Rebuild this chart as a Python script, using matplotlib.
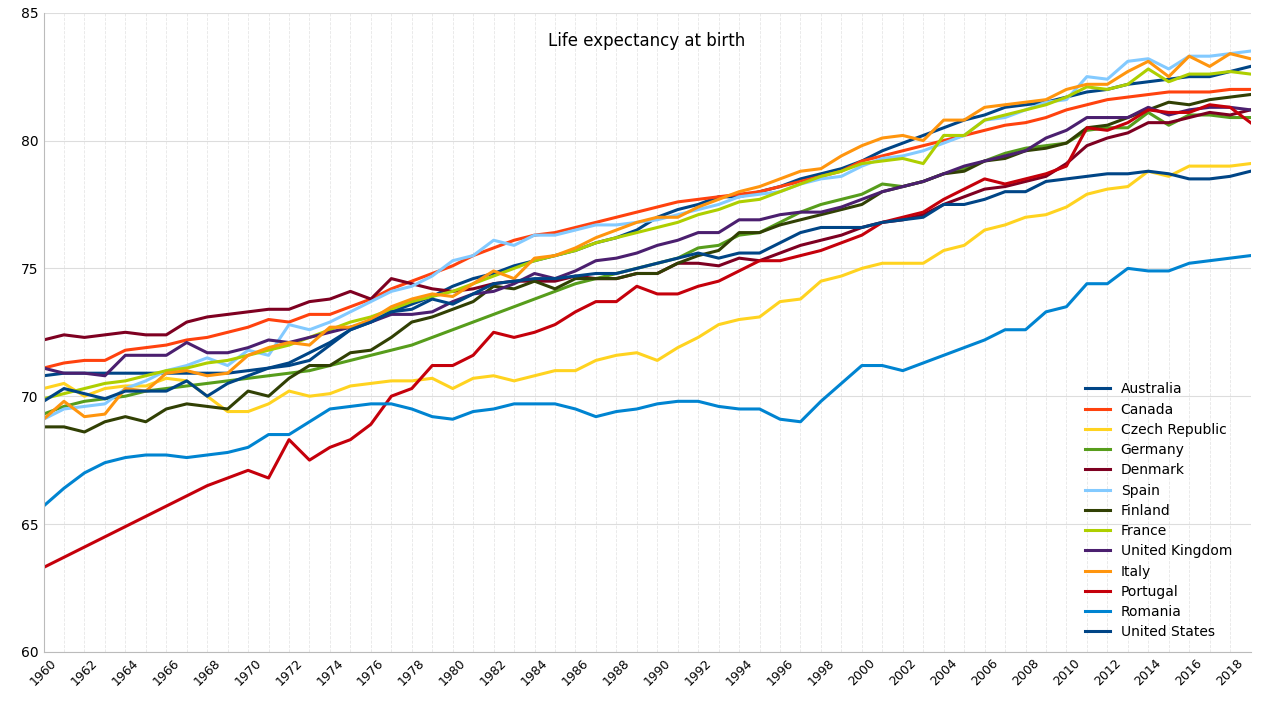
import matplotlib.pyplot as plt
import numpy as np

years = list(range(1960, 2020))

australia = [70.8, 70.9, 70.9, 70.9, 70.9, 70.9, 70.9, 70.9, 70.9, 70.9,
             71.0, 71.1, 71.3, 71.7, 72.1, 72.6, 72.9, 73.3, 73.6, 73.9,
             74.3, 74.6, 74.8, 75.1, 75.3, 75.5, 75.7, 76.0, 76.2, 76.5,
             77.0, 77.3, 77.5, 77.8, 77.8, 78.0, 78.2, 78.5, 78.7, 78.9,
             79.2, 79.6, 79.9, 80.2, 80.5, 80.8, 81.0, 81.3, 81.4, 81.5,
             81.7, 81.9, 82.0, 82.2, 82.3, 82.4, 82.5, 82.5, 82.7, 82.9]
canada = [71.1, 71.3, 71.4, 71.4, 71.8, 71.9, 72.0, 72.2, 72.3, 72.5,
          72.7, 73.0, 72.9, 73.2, 73.2, 73.5, 73.8, 74.2, 74.5, 74.8,
          75.1, 75.5, 75.8, 76.1, 76.3, 76.4, 76.6, 76.8, 77.0, 77.2,
          77.4, 77.6, 77.7, 77.8, 77.9, 78.0, 78.2, 78.4, 78.6, 78.8,
          79.2, 79.4, 79.6, 79.8, 80.0, 80.2, 80.4, 80.6, 80.7, 80.9,
          81.2, 81.4, 81.6, 81.7, 81.8, 81.9, 81.9, 81.9, 82.0, 82.0]
czech = [70.3, 70.5, 70.0, 70.3, 70.4, 70.4, 70.7, 70.6, 70.0, 69.4,
         69.4, 69.7, 70.2, 70.0, 70.1, 70.4, 70.5, 70.6, 70.6, 70.7,
         70.3, 70.7, 70.8, 70.6, 70.8, 71.0, 71.0, 71.4, 71.6, 71.7,
         71.4, 71.9, 72.3, 72.8, 73.0, 73.1, 73.7, 73.8, 74.5, 74.7,
         75.0, 75.2, 75.2, 75.2, 75.7, 75.9, 76.5, 76.7, 77.0, 77.1,
         77.4, 77.9, 78.1, 78.2, 78.8, 78.6, 79.0, 79.0, 79.0, 79.1]
germany = [69.3, 69.6, 69.8, 69.9, 70.0, 70.2, 70.3, 70.4, 70.5, 70.6,
           70.7, 70.8, 70.9, 71.0, 71.2, 71.4, 71.6, 71.8, 72.0, 72.3,
           72.6, 72.9, 73.2, 73.5, 73.8, 74.1, 74.4, 74.6, 74.8, 75.0,
           75.2, 75.4, 75.8, 75.9, 76.3, 76.4, 76.8, 77.2, 77.5, 77.7,
           77.9, 78.3, 78.2, 78.4, 78.7, 78.9, 79.2, 79.5, 79.7, 79.8,
           79.9, 80.4, 80.5, 80.5, 81.1, 80.6, 81.0, 81.0, 80.9, 80.9]
denmark = [72.2, 72.4, 72.3, 72.4, 72.5, 72.4, 72.4, 72.9, 73.1, 73.2,
           73.3, 73.4, 73.4, 73.7, 73.8, 74.1, 73.8, 74.6, 74.4, 74.2,
           74.1, 74.2, 74.4, 74.5, 74.5, 74.5, 74.7, 74.6, 74.6, 74.8,
           74.8, 75.2, 75.2, 75.1, 75.4, 75.3, 75.6, 75.9, 76.1, 76.3,
           76.6, 76.8, 76.9, 77.1, 77.5, 77.8, 78.1, 78.2, 78.4, 78.6,
           79.1, 79.8, 80.1, 80.3, 80.7, 80.7, 80.9, 81.1, 81.0, 81.2]
spain = [69.1, 69.5, 69.6, 69.7, 70.3, 70.6, 71.0, 71.2, 71.5, 71.2,
         71.8, 71.6, 72.8, 72.6, 72.9, 73.3, 73.7, 74.1, 74.3, 74.7,
         75.3, 75.5, 76.1, 75.9, 76.3, 76.3, 76.5, 76.7, 76.7, 76.8,
         76.9, 77.1, 77.3, 77.5, 77.8, 77.9, 78.0, 78.3, 78.5, 78.6,
         79.0, 79.3, 79.4, 79.6, 79.9, 80.2, 80.8, 80.9, 81.2, 81.5,
         81.6, 82.5, 82.4, 83.1, 83.2, 82.8, 83.3, 83.3, 83.4, 83.5]
finland = [68.8, 68.8, 68.6, 69.0, 69.2, 69.0, 69.5, 69.7, 69.6, 69.5,
           70.2, 70.0, 70.7, 71.2, 71.2, 71.7, 71.8, 72.3, 72.9, 73.1,
           73.4, 73.7, 74.3, 74.2, 74.5, 74.2, 74.6, 74.6, 74.6, 74.8,
           74.8, 75.2, 75.5, 75.7, 76.4, 76.4, 76.7, 76.9, 77.1, 77.3,
           77.5, 78.0, 78.2, 78.4, 78.7, 78.8, 79.2, 79.3, 79.6, 79.7,
           79.9, 80.5, 80.6, 80.9, 81.2, 81.5, 81.4, 81.6, 81.7, 81.8]
france = [69.9, 70.1, 70.3, 70.5, 70.6, 70.8, 71.0, 71.1, 71.3, 71.4,
          71.6, 71.8, 72.0, 72.3, 72.6, 72.9, 73.1, 73.4, 73.7, 73.9,
          74.1, 74.4, 74.7, 75.0, 75.3, 75.5, 75.7, 76.0, 76.2, 76.4,
          76.6, 76.8, 77.1, 77.3, 77.6, 77.7, 78.0, 78.3, 78.6, 78.8,
          79.1, 79.2, 79.3, 79.1, 80.2, 80.2, 80.8, 81.0, 81.2, 81.4,
          81.7, 82.1, 82.0, 82.2, 82.8, 82.3, 82.6, 82.6, 82.7, 82.6]
uk = [71.1, 70.9, 70.9, 70.8, 71.6, 71.6, 71.6, 72.1, 71.7, 71.7,
      71.9, 72.2, 72.1, 72.3, 72.5, 72.7, 72.9, 73.2, 73.2, 73.3,
      73.7, 74.0, 74.1, 74.4, 74.8, 74.6, 74.9, 75.3, 75.4, 75.6,
      75.9, 76.1, 76.4, 76.4, 76.9, 76.9, 77.1, 77.2, 77.2, 77.4,
      77.7, 78.0, 78.2, 78.4, 78.7, 79.0, 79.2, 79.4, 79.6, 80.1,
      80.4, 80.9, 80.9, 80.9, 81.3, 81.0, 81.2, 81.3, 81.3, 81.2]
italy = [69.1, 69.8, 69.2, 69.3, 70.3, 70.2, 70.9, 71.0, 70.8, 70.9,
         71.6, 71.9, 72.1, 72.0, 72.7, 72.7, 73.0, 73.5, 73.8, 74.0,
         73.9, 74.4, 74.9, 74.6, 75.4, 75.5, 75.8, 76.2, 76.5, 76.8,
         77.0, 77.0, 77.4, 77.7, 78.0, 78.2, 78.5, 78.8, 78.9, 79.4,
         79.8, 80.1, 80.2, 80.0, 80.8, 80.8, 81.3, 81.4, 81.5, 81.6,
         82.0, 82.2, 82.2, 82.7, 83.1, 82.5, 83.3, 82.9, 83.4, 83.2]
portugal = [63.3, 63.7, 64.1, 64.5, 64.9, 65.3, 65.7, 66.1, 66.5, 66.8,
            67.1, 66.8, 68.3, 67.5, 68.0, 68.3, 68.9, 70.0, 70.3, 71.2,
            71.2, 71.6, 72.5, 72.3, 72.5, 72.8, 73.3, 73.7, 73.7, 74.3,
            74.0, 74.0, 74.3, 74.5, 74.9, 75.3, 75.3, 75.5, 75.7, 76.0,
            76.3, 76.8, 77.0, 77.2, 77.7, 78.1, 78.5, 78.3, 78.5, 78.7,
            79.0, 80.5, 80.4, 80.7, 81.2, 81.1, 81.1, 81.4, 81.3, 80.7]
romania = [65.7, 66.4, 67.0, 67.4, 67.6, 67.7, 67.7, 67.6, 67.7, 67.8,
           68.0, 68.5, 68.5, 69.0, 69.5, 69.6, 69.7, 69.7, 69.5, 69.2,
           69.1, 69.4, 69.5, 69.7, 69.7, 69.7, 69.5, 69.2, 69.4, 69.5,
           69.7, 69.8, 69.8, 69.6, 69.5, 69.5, 69.1, 69.0, 69.8, 70.5,
           71.2, 71.2, 71.0, 71.3, 71.6, 71.9, 72.2, 72.6, 72.6, 73.3,
           73.5, 74.4, 74.4, 75.0, 74.9, 74.9, 75.2, 75.3, 75.4, 75.5]
united_states = [69.8, 70.3, 70.1, 69.9, 70.2, 70.2, 70.2, 70.6, 70.0, 70.5,
                 70.8, 71.1, 71.2, 71.4, 72.0, 72.6, 72.9, 73.3, 73.4, 73.8,
                 73.6, 74.0, 74.4, 74.5, 74.6, 74.6, 74.7, 74.8, 74.8, 75.0,
                 75.2, 75.4, 75.6, 75.4, 75.6, 75.6, 76.0, 76.4, 76.6, 76.6,
                 76.6, 76.8, 76.9, 77.0, 77.5, 77.5, 77.7, 78.0, 78.0, 78.4,
                 78.5, 78.6, 78.7, 78.7, 78.8, 78.7, 78.5, 78.5, 78.6, 78.8]

countries = ["Australia", "Canada", "Czech Republic", "Germany", "Denmark", "Spain",
             "Finland", "France", "United Kingdom", "Italy", "Portugal", "Romania",
             "United States"]


def plot_results(series, colors):
    """
    Plot every country's life expectancy curve on one chart.
    """
    plt.figure(figsize=(12.8, 7.07))
    plt.axes([0.034, 0.078, 0.943, 0.904])

    for name, values, color in zip(countries, series, colors):
        plt.plot(years, values, label=name, color=color, linewidth=2.2)

    plt.xlim(1960, 2019)
    plt.ylim(60, 85)
    plt.xticks(np.arange(1960, 2019, 2), rotation=45, fontsize=9)
    plt.xticks(np.arange(1960, 2020, 1), minor=True)
    plt.yticks(np.arange(60, 86, 5), fontsize=10)
    plt.tick_params(which='both', length=0)
    plt.text(0.5, 0.97, "Life expectancy at birth", transform=plt.gca().transAxes,
             ha='center', va='top', fontsize=12)
    plt.legend(loc='lower right', fontsize=10, frameon=False, handlelength=1.8,
               labelspacing=0.45, bbox_to_anchor=(0.995, 0.0))
    plt.grid(True, which='major', axis='y', color='#dddddd', linewidth=0.8)
    plt.grid(True, which='both', axis='x', color='#e6e6e6', linestyle='--', linewidth=0.6)
    for side in ['top', 'right']:
        plt.gca().spines[side].set_visible(False)
    for side in ['left', 'bottom']:
        plt.gca().spines[side].set_color('#bbbbbb')

    plt.savefig("out.png", dpi=100)
    plt.close()


series = [australia, canada, czech, germany, denmark, spain, finland, france,
          uk, italy, portugal, romania, united_states]
colors = ['#004586', '#ff420e', '#ffd320', '#579d1c', '#7e0021', '#83caff', '#314004',
          '#aecf00', '#4b1f6f', '#ff950e', '#c5000b', '#0084d1', '#004586']
plot_results(series, colors)
